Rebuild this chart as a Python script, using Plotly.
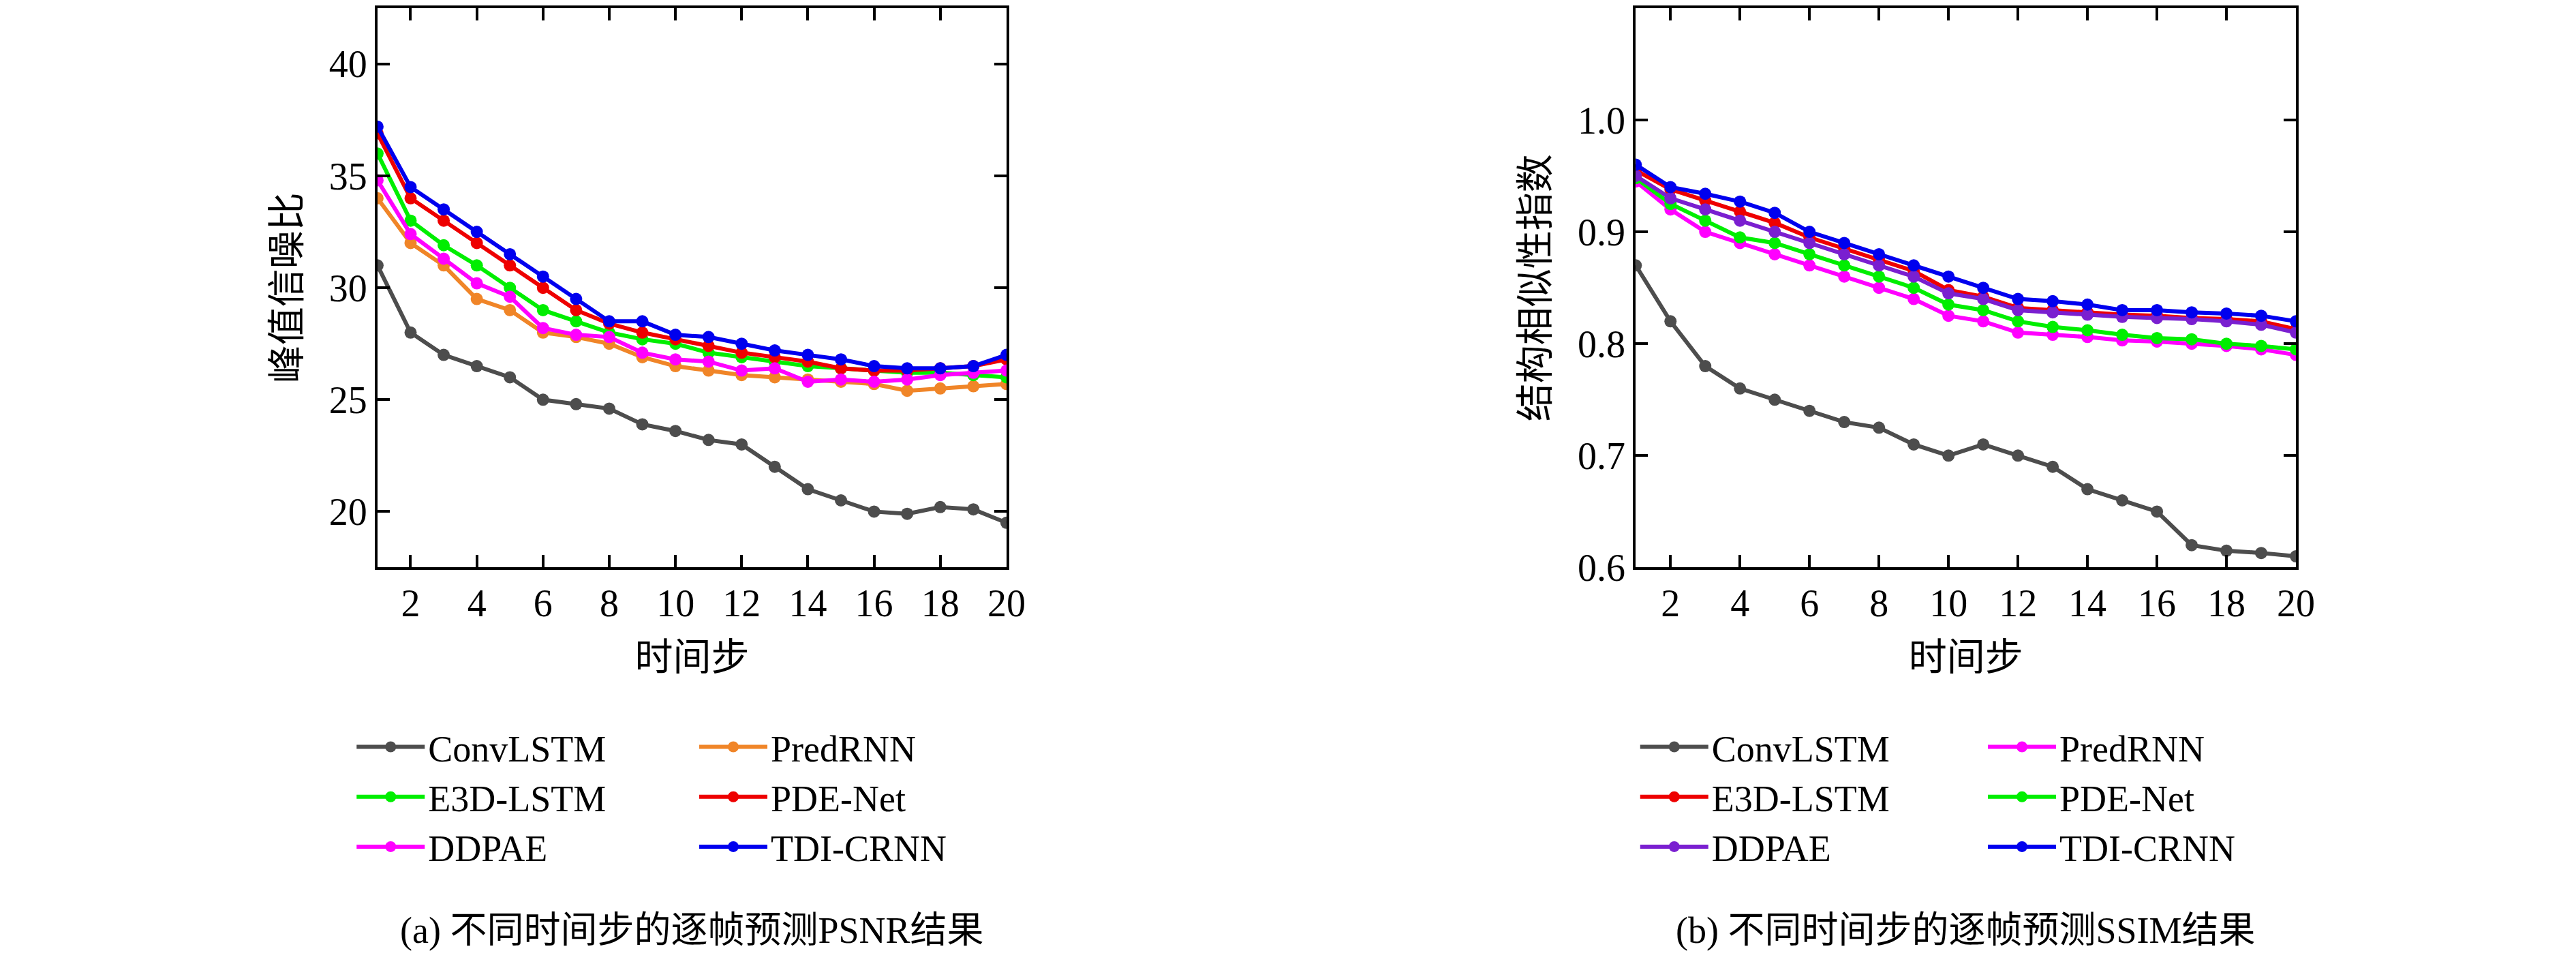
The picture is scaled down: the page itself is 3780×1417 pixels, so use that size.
import plotly.graph_objects as go

steps = list(range(1, 21))

# 左图: PSNR
psnr_names = ['ConvLSTM', 'PredRNN', 'E3D-LSTM', 'PDE-Net', 'DDPAE', 'TDI-CRNN']
psnr_convlstm = [31, 28, 27, 26.5, 26, 25, 24.8, 24.6, 23.9, 23.6, 23.2, 23, 22, 21, 20.5, 20, 19.9, 20.2, 20.1, 19.5]
psnr_predrnn = [34, 32, 31, 29.5, 29, 28, 27.8, 27.5, 26.9, 26.5, 26.3, 26.1, 26, 25.9, 25.8, 25.7, 25.4, 25.5, 25.6, 25.7]
psnr_e3d = [36, 33, 31.9, 31, 30, 29, 28.5, 28, 27.7, 27.5, 27.1, 26.9, 26.7, 26.5, 26.4, 26.3, 26.2, 26.2, 26.1, 26.0]
psnr_pde = [36.9, 34, 33, 32, 31, 30, 29, 28.4, 28, 27.7, 27.4, 27.1, 26.9, 26.7, 26.4, 26.3, 26.3, 26.4, 26.5, 26.8]
psnr_ddpae = [34.8, 32.4, 31.3, 30.2, 29.6, 28.2, 27.9, 27.8, 27.1, 26.8, 26.7, 26.3, 26.4, 25.8, 25.9, 25.8, 25.9, 26.1, 26.2, 26.3]
psnr_tdi = [37.2, 34.5, 33.5, 32.5, 31.5, 30.5, 29.5, 28.5, 28.5, 27.9, 27.8, 27.5, 27.2, 27.0, 26.8, 26.5, 26.4, 26.4, 26.5, 27.0]

# 右图: SSIM
ssim_names = ['ConvLSTM', 'PredRNN', 'E3D-LSTM', 'PDE-Net', 'DDPAE', 'TDI-CRNN']
ssim_convlstm = [.87, .82, .78, .76, .75, .74, .73, .725, .71, .70, .71, .70, .69, .67, .66, .65, .62, .615, .613, .61]
ssim_predrnn = [.945, .92, .90, .89, .88, .87, .86, .85, .84, .825, .82, .81, .808, .806, .803, .802, .80, .798, .795, .79]
ssim_e3d = [.955, .938, .928, .918, .908, .895, .885, .875, .865, .848, .842, .832, .830, .828, .826, .825, .823, .822, .82, .813]
ssim_pde = [.948, .925, .91, .895, .89, .88, .87, .86, .85, .835, .83, .82, .815, .812, .808, .805, .804, .80, .798, .795]
ssim_ddpae = [.95, .93, .92, .91, .90, .89, .88, .87, .86, .845, .84, .83, .828, .826, .824, .823, .822, .82, .817, .81]
ssim_tdi = [.96, .94, .934, .927, .917, .90, .89, .88, .87, .86, .85, .84, .838, .835, .83, .83, .828, .827, .825, .82]

GRAY, ORANGE, GREEN, RED, MAG, BLUE, PURPLE = '#4d4d4d', '#f08528', '#00ee00', '#ee0000', '#ff00ff', '#0000ee', '#7a1fd0'

SERIF = 'Liberation Serif, Noto Sans CJK SC'
fig = go.Figure()

left = [(psnr_convlstm, GRAY, 'legend'), (psnr_predrnn, ORANGE, 'legend2'),
        (psnr_e3d, GREEN, 'legend'), (psnr_pde, RED, 'legend2'),
        (psnr_ddpae, MAG, 'legend'), (psnr_tdi, BLUE, 'legend2')]
for name, (vals, col, lg) in zip(psnr_names, left):
    fig.add_trace(go.Scatter(x=steps, y=vals, name=name, mode='lines+markers',
                             line=dict(color=col, width=6), marker=dict(size=18, color=col),
                             xaxis='x', yaxis='y', legend=lg))

right = [(ssim_convlstm, GRAY, 'legend3'), (ssim_predrnn, MAG, 'legend4'),
         (ssim_e3d, RED, 'legend3'), (ssim_pde, GREEN, 'legend4'),
         (ssim_ddpae, PURPLE, 'legend3'), (ssim_tdi, BLUE, 'legend4')]
for name, (vals, col, lg) in zip(ssim_names, right):
    fig.add_trace(go.Scatter(x=steps, y=vals, name=name, mode='lines+markers',
                             line=dict(color=col, width=6), marker=dict(size=18, color=col),
                             xaxis='x2', yaxis='y2', legend=lg))

ax = dict(showgrid=False, zeroline=False, showline=True, linecolor='black', linewidth=4,
          mirror='ticks', ticks='inside', ticklen=18, tickwidth=4, tickcolor='black',
          tickfont=dict(size=56, family=SERIF, color='black'))
xax = dict(ax, range=[1, 20], tickvals=list(range(2, 21, 2)),
           title=dict(text='时间步', font=dict(size=56, family=SERIF, color='black'), standoff=30))

lgd = dict(font=dict(size=54, family=SERIF, color='black'), bgcolor='rgba(0,0,0,0)',
           yanchor='top', y=0.245, xanchor='left', itemwidth=100, tracegroupgap=0)

fig.update_layout(
    width=3780, height=1417, margin=dict(l=0, r=0, t=0, b=0),
    paper_bgcolor='white', plot_bgcolor='white',
    xaxis=dict(xax, domain=[0.1455, 0.3915], anchor='y'),
    yaxis=dict(ax, domain=[0.405, 0.998], range=[17.5, 42.5], tickvals=[20, 25, 30, 35, 40], anchor='x',
               title=dict(text='峰值信噪比', font=dict(size=56, family=SERIF, color='black'), standoff=25)),
    xaxis2=dict(xax, domain=[0.6376, 0.8958], anchor='y2'),
    yaxis2=dict(ax, domain=[0.405, 0.998], range=[0.6, 1.1], tickvals=[0.6, 0.7, 0.8, 0.9, 1.0, 1.1],
                ticktext=['0.6', '0.7', '0.8', '0.9', '1.0', '1.1'], anchor='x2',
                title=dict(text='结构相似性指数', font=dict(size=56, family=SERIF, color='black'), standoff=25)),
    legend=dict(lgd, x=0.136),
    legend2=dict(lgd, x=0.270),
    legend3=dict(lgd, x=0.638),
    legend4=dict(lgd, x=0.774),
)

fig.add_annotation(text='(a) 不同时间步的逐帧预测PSNR结果', x=0.2685, y=0.02, xref='paper', yref='paper',
                   xanchor='center', yanchor='middle', showarrow=False,
                   font=dict(size=54, family=SERIF, color='black'))
fig.add_annotation(text='(b) 不同时间步的逐帧预测SSIM结果', x=0.7667, y=0.02, xref='paper', yref='paper',
                   xanchor='center', yanchor='middle', showarrow=False,
                   font=dict(size=54, family=SERIF, color='black'))

fig.write_html('out.html')
